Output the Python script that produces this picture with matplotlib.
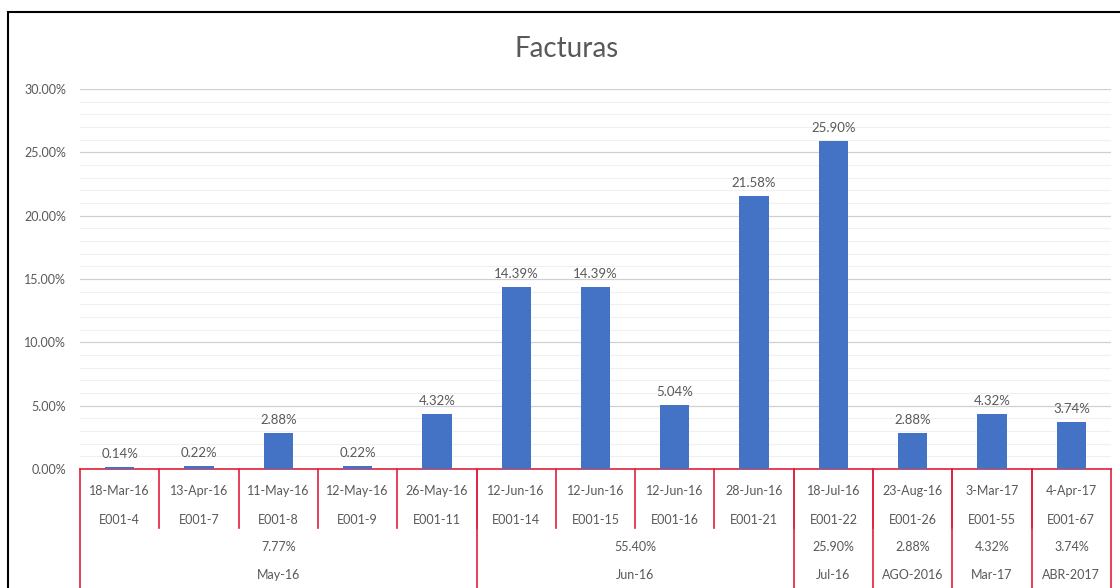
import matplotlib
matplotlib.use("Agg")
import matplotlib.pyplot as plt
from matplotlib.patches import Rectangle
from matplotlib.ticker import MultipleLocator, PercentFormatter

# datos de las facturas
fechas = ['18-Mar-16', '13-Apr-16', '11-May-16', '12-May-16', '26-May-16',
          '12-Jun-16', '12-Jun-16', '12-Jun-16', '28-Jun-16', '18-Jul-16',
          '23-Aug-16', '3-Mar-17', '4-Apr-17']
codigos = ['E001-4', 'E001-7', 'E001-8', 'E001-9', 'E001-11', 'E001-14',
           'E001-15', 'E001-16', 'E001-21', 'E001-22', 'E001-26', 'E001-55',
           'E001-67']
valores = [0.14, 0.22, 2.88, 0.22, 4.32, 14.39, 14.39, 5.04, 21.58, 25.90,
           2.88, 4.32, 3.74]

# agrupacion por mes
meses = ['May-16', 'Jun-16', 'Jul-16', 'AGO-2016', 'Mar-17', 'ABR-2017']
meses_pct = ['7.77%', '55.40%', '25.90%', '2.88%', '4.32%', '3.74%']
meses_n = [5, 4, 1, 1, 1, 1]

plt.rcParams['font.family'] = ['Lato', 'DejaVu Sans']
gris = '#595959'
rojo = '#e0203c'
fs = 9

fig = plt.figure(figsize=(11.2, 5.88), dpi=100)
ax = fig.add_axes([80/1120, 1-469/588, (1111-80)/1120, (469-89)/588])

x = list(range(len(valores)))
ax.bar(x, valores, width=0.37, color='#4472C4', zorder=3)
for xi, v in zip(x, valores):
    ax.annotate(f'{v:.2f}%', (xi, v), xytext=(0, 5), textcoords='offset points',
                ha='center', va='bottom', fontsize=9.5, color=gris)

ax.set_xlim(-0.5, len(valores) - 0.5)
ax.set_ylim(0, 30)
ax.yaxis.set_major_locator(MultipleLocator(5))
ax.yaxis.set_minor_locator(MultipleLocator(1))
ax.yaxis.set_major_formatter(PercentFormatter(decimals=2))
ax.grid(axis='y', which='major', color='#d0d0d0', lw=0.9, zorder=0)
ax.grid(axis='y', which='minor', color='#f0f0f0', lw=0.8, zorder=0)
ax.tick_params(axis='y', which='both', length=0, pad=10, labelsize=fs, labelcolor=gris)
ax.set_xticks([])
for s in ['top', 'right', 'left']:
    ax.spines[s].set_visible(False)
ax.spines['bottom'].set_color(rojo)
ax.spines['bottom'].set_linewidth(1.2)

# ejes de categorias multinivel
tr = ax.get_xaxis_transform()
h = 380.0
for xi in x:
    ax.text(xi, -22/h, fechas[xi], transform=tr, ha='center', va='center',
            fontsize=fs, color=gris)
    ax.text(xi, -51/h, codigos[xi], transform=tr, ha='center', va='center',
            fontsize=fs, color=gris)
for b in range(1, len(valores)):
    ax.plot([b - 0.5, b - 0.5], [0, -59/h], transform=tr, color=rojo, lw=1.2,
            clip_on=False)

inicio = 0
bordes = [-0.5]
for m, p, n in zip(meses, meses_pct, meses_n):
    centro = inicio + (n - 1) / 2
    ax.text(centro, -78/h, p, transform=tr, ha='center', va='center',
            fontsize=fs, color=gris)
    ax.text(centro, -106/h, m, transform=tr, ha='center', va='center',
            fontsize=fs, color=gris)
    inicio += n
    bordes.append(inicio - 0.5)
for b in bordes:
    ax.plot([b, b], [0, -125/h], transform=tr, color=rojo, lw=1.2, clip_on=False)

fig.text(567/1120, 1-49/588, 'Facturas', ha='center', va='center',
         fontsize=20, color=gris)

fig.patches.append(Rectangle((8/1120, -0.2), 1.2, 1.2 + (1-12/588) - 1,
                             transform=fig.transFigure, fill=False,
                             edgecolor='black', lw=1.5))

fig.savefig('out.png', dpi=100)
